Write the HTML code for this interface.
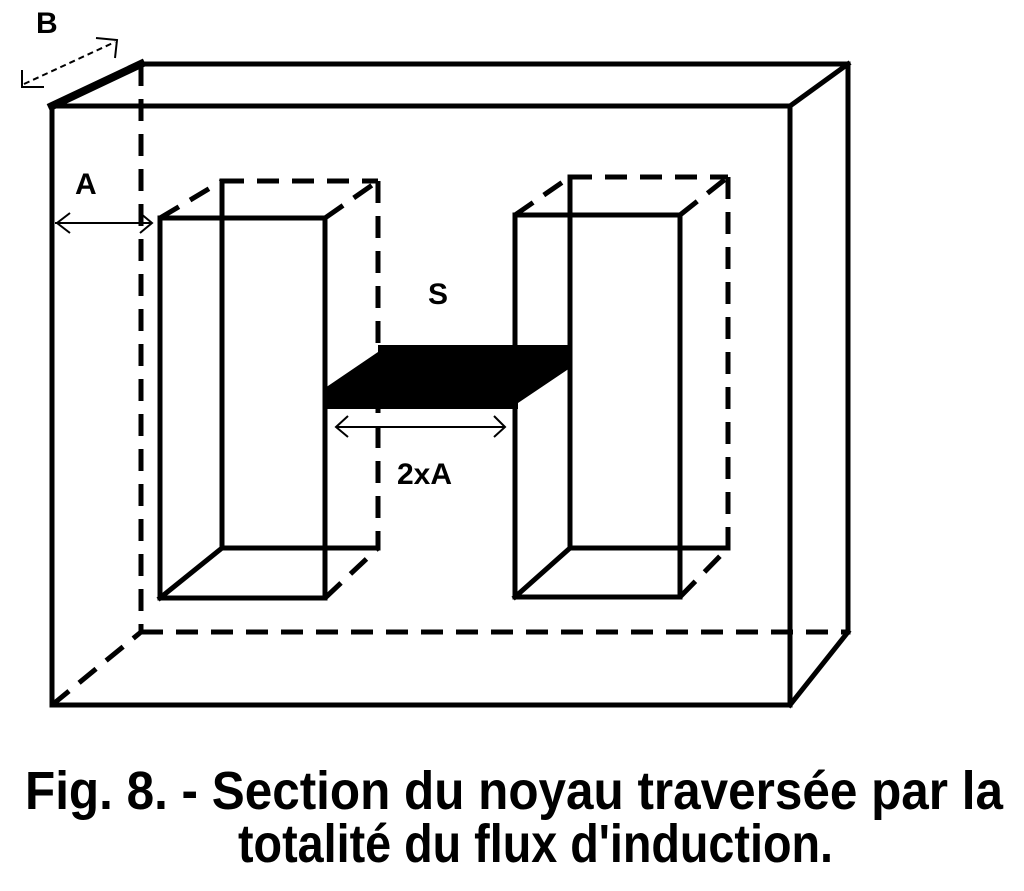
<!DOCTYPE html>
<html><head><meta charset="utf-8"><style>html,body{margin:0;padding:0;background:#fff;}svg{display:block}</style></head>
<body>
<svg width="1024" height="891" viewBox="0 0 1024 891" xmlns="http://www.w3.org/2000/svg">
<g stroke="#000" stroke-width="5" fill="none" stroke-linecap="square">
<rect x="52" y="106" width="738" height="599"/>
<line x1="141" y1="64" x2="848" y2="64"/>
<line x1="848" y1="64" x2="848" y2="632"/>
<line x1="52" y1="106" x2="141" y2="64" stroke-width="8"/>
<line x1="790" y1="106" x2="848" y2="64"/>
<line x1="790" y1="705" x2="848" y2="632"/>
<g stroke-dasharray="22 13" stroke-linecap="butt">
<line x1="141" y1="64" x2="141" y2="632"/>
<line x1="141" y1="632" x2="848" y2="632"/>
<line x1="52" y1="705" x2="141" y2="632"/>
</g>
<rect x="160" y="218" width="165" height="380"/>
<line x1="222" y1="181" x2="222" y2="548"/>
<line x1="222" y1="548" x2="378" y2="548"/>
<line x1="160" y1="598" x2="222" y2="548"/>
<g stroke-dasharray="22 13" stroke-linecap="butt">
<line x1="222" y1="181" x2="378" y2="181"/>
<line x1="378" y1="181" x2="378" y2="548"/>
<line x1="160" y1="218" x2="222" y2="181"/>
<line x1="325" y1="218" x2="378" y2="181"/>
<line x1="325" y1="598" x2="378" y2="548"/>
</g>
<rect x="515" y="215" width="165" height="382"/>
<line x1="570" y1="177" x2="570" y2="548"/>
<line x1="570" y1="548" x2="728" y2="548"/>
<line x1="515" y1="597" x2="570" y2="548"/>
<g stroke-dasharray="22 13" stroke-linecap="butt">
<line x1="570" y1="177" x2="728" y2="177"/>
<line x1="728" y1="177" x2="728" y2="548"/>
<line x1="515" y1="215" x2="570" y2="177"/>
<line x1="680" y1="215" x2="728" y2="177"/>
<line x1="680" y1="597" x2="728" y2="548"/>
</g>
</g>
<polygon points="378,345 570,345 570,368 518,403 518,409 325,409 325,388 378,352" fill="#000"/>
<g stroke="#000" stroke-width="2" fill="none">
<line x1="55" y1="223" x2="152" y2="223"/>
<polyline points="70,213 57,223 70,233"/>
<polyline points="140,213 152,223 140,233"/>
<line x1="336" y1="427" x2="505" y2="427"/>
<polyline points="348,416 336,427 348,437"/>
<polyline points="494,416 505,427 494,437"/>
<line x1="24" y1="84" x2="115" y2="42" stroke-dasharray="6 4"/>
<polyline points="22,70 22,87 44,87"/>
<polyline points="96,38 117,40 115,58"/>
</g>
<g font-family="Liberation Sans, sans-serif" font-weight="bold" fill="#000">
<text x="36" y="33" font-size="30">B</text>
<text x="75" y="194" font-size="30">A</text>
<text x="428" y="304" font-size="30">S</text>
<text x="397" y="484" font-size="30">2xA</text>
</g>
<g font-family="Liberation Sans, sans-serif" font-weight="bold" fill="#000" font-size="54">
<text x="25" y="809" textLength="978" lengthAdjust="spacingAndGlyphs">Fig. 8. - Section du noyau traversée par la</text>
<text x="238" y="862" textLength="595" lengthAdjust="spacingAndGlyphs">totalité du flux d'induction.</text>
</g>
</svg>
</body></html>
